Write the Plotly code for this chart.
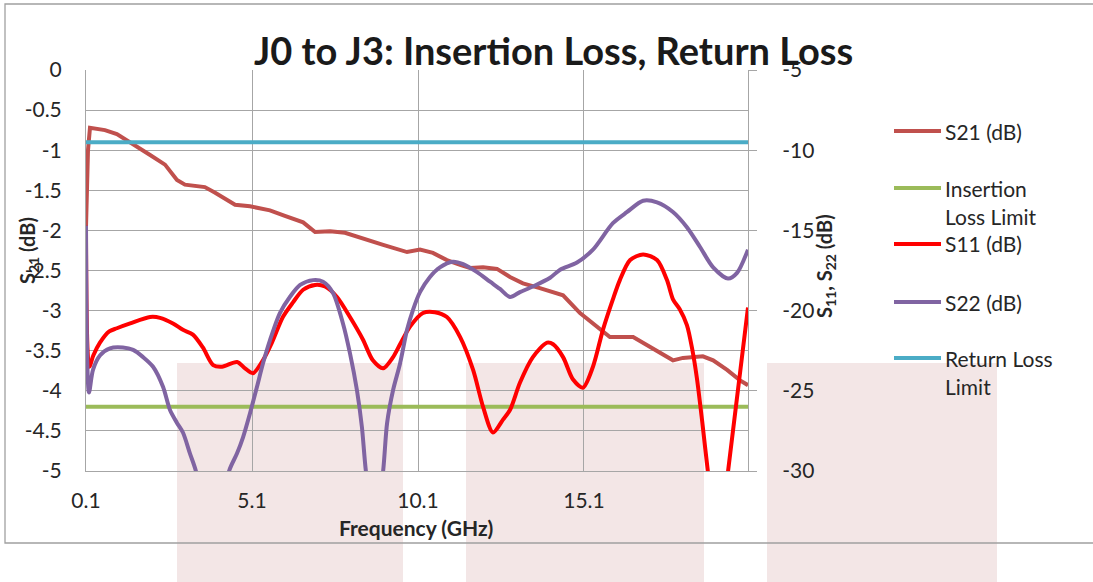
import plotly.graph_objects as go

# ---------------- data ----------------
s21_freq = [0.1, 0.16, 0.22, 0.67, 1.03, 1.43, 2.03, 2.48, 2.84, 3.08,
            3.68, 3.99, 4.59, 5.04, 5.64, 6.09, 6.64, 7.0, 7.45, 7.9,
            8.65, 9.05, 9.77, 10.16, 10.55, 10.97, 11.37, 11.67, 12.06, 12.48,
            12.87, 13.26, 13.77, 14.47, 14.98, 15.58, 15.88, 16.58, 17.09, 17.78,
            18.08, 18.68, 18.99, 19.41, 19.8, 20.04]
s21_db = [-1.96, -1.0, -0.72, -0.75, -0.80, -0.91, -1.06, -1.18, -1.37, -1.43,
          -1.46, -1.53, -1.68, -1.70, -1.75, -1.82, -1.90, -2.02, -2.01, -2.03,
          -2.12, -2.18, -2.27, -2.24, -2.28, -2.37, -2.43, -2.47, -2.46, -2.48,
          -2.58, -2.66, -2.72, -2.81, -3.03, -3.24, -3.33, -3.33, -3.45, -3.62,
          -3.59, -3.57, -3.62, -3.74, -3.87, -3.93]

s11_freq = [0.1, 0.2, 0.32, 0.52, 0.8, 1.03, 1.43, 2.03, 2.33, 2.72,
            3.02, 3.32, 3.62, 3.93, 4.2, 4.65, 4.89, 5.13, 5.43, 5.7,
            6.03, 6.33, 6.64, 7.0, 7.3, 7.66, 8.05, 8.44, 8.74, 9.05,
            9.35, 9.56, 9.86, 10.25, 10.61, 10.97, 11.37, 11.76, 12.06, 12.36,
            12.66, 12.87, 13.17, 13.56, 13.99, 14.17, 14.47, 14.77, 15.07, 15.37,
            15.67, 15.97, 16.18, 16.49, 16.88, 17.3, 17.6, 17.78, 17.98, 18.2,
            18.36, 18.5, 18.66, 18.83, 19.14, 19.44, 20.04]
s11_db = [-14.7, -23.5, -22.8, -22.0, -21.3, -21.1, -20.8, -20.4, -20.45, -20.8,
          -21.2, -21.5, -22.3, -23.4, -23.5, -23.2, -23.6, -23.9, -23.1, -22.0,
          -20.4, -19.5, -18.7, -18.4, -18.5, -19.15, -20.4, -21.8, -23.1, -23.6,
          -22.9, -22.1, -21.0, -20.15, -20.1, -20.4, -21.65, -23.7, -26.0, -27.6,
          -26.8, -26.2, -24.5, -22.9, -22.0, -22.1, -22.9, -24.3, -24.8, -23.5,
          -21.2, -19.3, -18.1, -16.85, -16.5, -16.85, -18.1, -19.3, -19.9, -20.9,
          -22.4, -24.2, -26.9, -30.0, -35.0, -30.0, -19.8]

s22_freq = [0.1, 0.19, 0.31, 0.52, 0.82, 1.21, 1.52, 1.82, 2.12, 2.42,
            2.63, 2.84, 3.02, 3.23, 3.41, 3.9, 4.41, 4.65, 4.83, 5.04,
            5.25, 5.43, 5.64, 5.94, 6.24, 6.55, 6.94, 7.24, 7.54, 7.84,
            8.05, 8.26, 8.41, 8.53, 8.8, 9.05, 9.17, 9.35, 9.56, 9.77,
            9.95, 10.16, 10.46, 10.76, 11.15, 11.46, 11.88, 12.27, 12.57, 12.87,
            13.17, 13.56, 14.08, 14.38, 14.89, 15.37, 15.97, 16.4, 16.88, 17.3,
            17.78, 18.2, 18.6, 18.99, 19.44, 19.71, 20.04]
s22_db = [-14.7, -25.1, -23.7, -22.8, -22.35, -22.3, -22.45, -22.9, -23.5, -24.75,
          -26.2, -27.0, -27.6, -28.9, -30.0, -35.0, -30.0, -28.9, -27.9, -26.4,
          -24.75, -23.3, -21.85, -20.15, -19.15, -18.4, -18.1, -18.2, -18.9, -20.8,
          -22.65, -24.95, -27.25, -30.0, -34.0, -30.0, -27.0, -24.95, -23.3, -21.2,
          -19.95, -18.85, -17.9, -17.3, -16.95, -17.1, -17.6, -18.2, -18.65, -19.15,
          -18.85, -18.5, -17.95, -17.45, -17.0, -16.2, -14.55, -13.85, -13.15, -13.25,
          -13.85, -14.8, -16.05, -17.3, -18.0, -17.65, -16.2]

limit_freq = [0.1, 20.04]
insertion_loss_limit = [-4.2, -4.2]
return_loss_limit = [-9.5, -9.5]

x_tick_vals = [0.1, 5.1, 10.1, 15.1]
x_tick_text = ["0.1", "5.1", "10.1", "15.1"]
left_tick_vals = [0, -0.5, -1, -1.5, -2, -2.5, -3, -3.5, -4, -4.5, -5]
left_tick_text = ["0", "-0.5", "-1", "-1.5", "-2", "-2.5", "-3", "-3.5", "-4", "-4.5", "-5"]
right_tick_vals = [-5, -10, -15, -20, -25, -30]
right_tick_text = ["-5", "-10", "-15", "-20", "-25", "-30"]

legend_names = ["S21 (dB)", "Insertion<br>Loss Limit", "S11 (dB)", "S22 (dB)", "Return Loss<br>Limit"]

title_text = "J0 to J3: Insertion Loss, Return Loss"

# ---------------- styling / layout ----------------
W, H = 1093, 582
PL, PR, PT, PB = 86, 748, 70, 471  # plot area in pixels
FONT = "Lato"
TXT = "#262626"
GRID = "#a6a6a6"

C_S21 = "#c0504d"
C_IL = "#9bbb59"
C_S11 = "#ff0000"
C_S22 = "#8064a2"
C_RL = "#4bacc6"


def px(x):
    return (x - PL) / (PR - PL)


def py(y):
    return (PB - y) / (PB - PT)


fig = go.Figure()
fig.add_trace(go.Scatter(x=s21_freq, y=s21_db, mode="lines", name="S21 (dB)",
                         line=dict(color=C_S21, width=4), yaxis="y"))
fig.add_trace(go.Scatter(x=limit_freq, y=insertion_loss_limit, mode="lines",
                         name="Insertion Loss Limit",
                         line=dict(color=C_IL, width=4), yaxis="y"))
fig.add_trace(go.Scatter(x=s11_freq, y=s11_db, mode="lines", name="S11 (dB)",
                         line=dict(color=C_S11, width=4, shape="spline", smoothing=0.8),
                         yaxis="y2"))
fig.add_trace(go.Scatter(x=s22_freq, y=s22_db, mode="lines", name="S22 (dB)",
                         line=dict(color=C_S22, width=4, shape="spline", smoothing=0.8),
                         yaxis="y2"))
fig.add_trace(go.Scatter(x=limit_freq, y=return_loss_limit, mode="lines",
                         name="Return Loss Limit",
                         line=dict(color=C_RL, width=4), yaxis="y2"))

shapes = []
# pink overlay blocks
for x0, x1 in [(177, 403), (466, 704), (767, 997)]:
    shapes.append(dict(type="rect", xref="paper", yref="paper",
                       x0=px(x0), x1=px(x1), y0=py(600), y1=py(363),
                       fillcolor="#f3e6e6", line=dict(width=0), layer="below"))
# chart-area border
shapes.append(dict(type="rect", xref="paper", yref="paper",
                   x0=px(5), x1=px(1110), y0=py(543), y1=py(4),
                   fillcolor="rgba(0,0,0,0)", line=dict(color="#a0a0a0", width=1.3),
                   layer="above"))

legend_colors = [C_S21, C_IL, C_S11, C_S22, C_RL]
legend_y = [131, 188, 244, 302, 358]
annotations = []
for name, col, ly in zip(legend_names, legend_colors, legend_y):
    shapes.append(dict(type="line", xref="paper", yref="paper",
                       x0=px(894), x1=px(941), y0=py(ly), y1=py(ly),
                       line=dict(color=col, width=4)))
    lines = name.split("<br>")
    for i, ln in enumerate(lines):
        annotations.append(dict(text=ln, xref="paper", yref="paper",
                                x=px(943), y=py(ly + i * 28.5), xanchor="left",
                                yanchor="middle", showarrow=False,
                                font=dict(family=FONT, size=21, color=TXT)))

annotations.append(dict(text="<b>" + title_text + "</b>", xref="paper", yref="paper",
                        x=px(553), y=py(50), xanchor="center", yanchor="middle",
                        showarrow=False, font=dict(family=FONT, size=38, color="#1a1a1a")))
annotations.append(dict(text="<b>S<sub>21</sub> (dB)</b>", xref="paper", yref="paper",
                        x=px(28), y=py(250), xanchor="center", yanchor="middle",
                        textangle=-90, showarrow=False,
                        font=dict(family=FONT, size=20, color=TXT)))
annotations.append(dict(text="<b>S<sub>11</sub>, S<sub>22</sub> (dB)</b>", xref="paper",
                        yref="paper", x=px(825), y=py(266), xanchor="center",
                        yanchor="middle", textangle=-90, showarrow=False,
                        font=dict(family=FONT, size=20, color=TXT)))
annotations.append(dict(text="<b>Frequency (GHz)</b>", xref="paper", yref="paper",
                        x=px(416), y=py(527), xanchor="center", yanchor="middle",
                        showarrow=False, font=dict(family=FONT, size=21, color=TXT)))

fig.update_layout(
    width=W, height=H, autosize=False,
    margin=dict(l=PL, r=W - PR, t=PT, b=H - PB, pad=0),
    paper_bgcolor="white", plot_bgcolor="rgba(0,0,0,0)",
    showlegend=False,
    font=dict(family=FONT, size=21, color=TXT),
    xaxis=dict(range=[0.1, 20.04], tickvals=x_tick_vals, ticktext=x_tick_text,
               showgrid=True, gridcolor=GRID, gridwidth=1, zeroline=False,
               showline=True, linecolor=GRID, linewidth=1, ticks="",
               ticklabelstandoff=11, tickfont=dict(family=FONT, size=21, color=TXT)),
    yaxis=dict(range=[-5, 0], tickvals=left_tick_vals, ticktext=left_tick_text,
               showgrid=True, gridcolor=GRID, gridwidth=1, zeroline=False,
               showline=True, linecolor=GRID, linewidth=1, ticks="",
               ticklabelstandoff=19, tickfont=dict(family=FONT, size=21, color=TXT)),
    yaxis2=dict(range=[-30, -5], tickvals=right_tick_vals, ticktext=right_tick_text,
                overlaying="y", side="right", showgrid=False, zeroline=False,
                showline=True, linecolor=GRID, linewidth=1, ticks="outside",
                ticklen=8, tickcolor=GRID, ticklabelstandoff=21,
                tickfont=dict(family=FONT, size=21, color=TXT)),
    shapes=shapes,
    annotations=annotations,
)

fig.write_html("out.html", config={"displayModeBar": False},
               post_script="document.body.style.margin='0';document.body.style.overflow='hidden';")
